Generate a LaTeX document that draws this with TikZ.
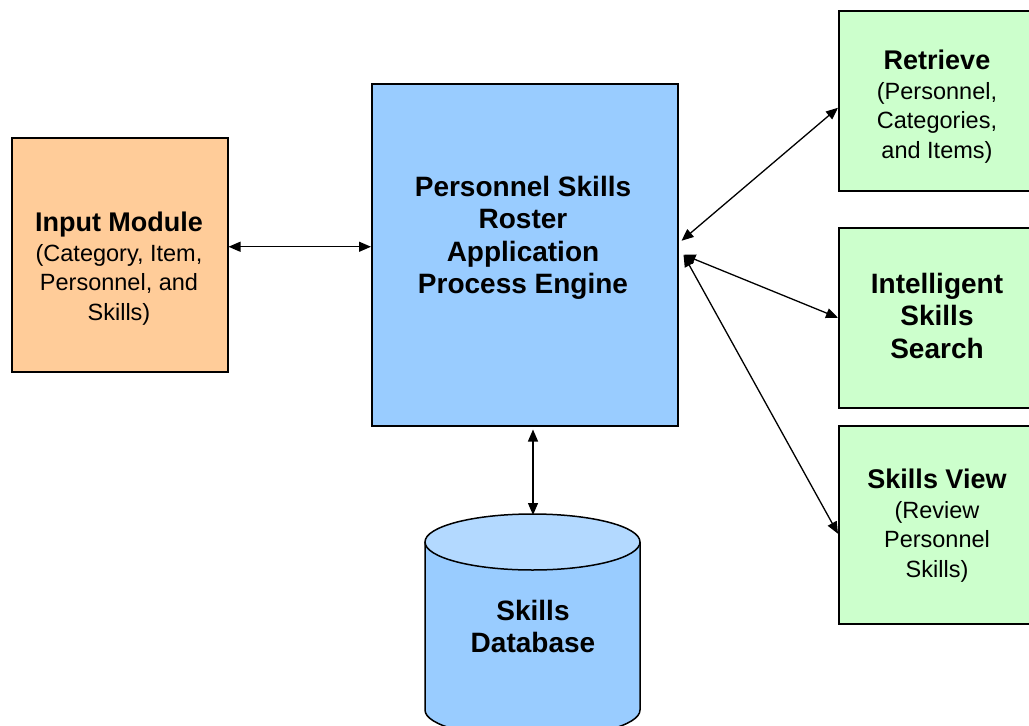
\documentclass[tikz,border=0pt]{standalone}
\usepackage{fontspec}
\setmainfont{Liberation Sans}
\usetikzlibrary{arrows.meta}
\definecolor{peach}{HTML}{FFCC99}
\definecolor{engineblue}{HTML}{99CCFF}
\definecolor{mint}{HTML}{CCFFCC}
\definecolor{dbtop}{HTML}{B3D9FF}
\tikzset{
  box/.style={draw=black, line width=1.5pt, inner sep=0pt, anchor=north west},
  txt/.style={align=center, inner sep=0pt, text=black},
  link/.style={line width=1.3pt, {Triangle[length=12pt,width=10pt]}-{Triangle[length=12pt,width=10pt]}},
  ttl/.style={font=\bfseries\fontsize{28}{32.5}\selectfont},
  mixed/.style={font=\fontsize{23.5}{29.5}\selectfont},
}
\newcommand{\hd}[1]{{\bfseries\fontsize{27}{31}\selectfont #1}}
\begin{document}
\begin{tikzpicture}[x=1pt,y=-1pt]
\useasboundingbox (0,0) rectangle (1029,726);
\begin{scope}
\clip (0,0) rectangle (1029,726);
% boxes
\node[box, fill=peach, minimum width=216pt, minimum height=234pt] (input) at (11,137) {};
\node[box, fill=engineblue, minimum width=306pt, minimum height=342pt] (engine) at (371,83) {};
\node[box, fill=mint, minimum width=200pt, minimum height=180pt] (retrieve) at (838,10) {};
\node[box, fill=mint, minimum width=200pt, minimum height=180pt] (search) at (838,227) {};
\node[box, fill=mint, minimum width=200pt, minimum height=198pt] (view) at (838,425) {};
% database cylinder
\fill[engineblue] (425,542) rectangle (640,710);
\fill[engineblue] (532.5,710) ellipse [x radius=107.5pt, y radius=28pt];
\draw[line width=1.5pt] (425,542) -- (425,710) arc[start angle=180, end angle=360, x radius=107.5pt, y radius=28pt] -- (640,542);
\filldraw[fill=dbtop, line width=1.5pt] (532.5,542) ellipse [x radius=107.5pt, y radius=28pt];
\coordinate (db) at (533,515);
\end{scope}
% labels
\node[txt, mixed] (inputtxt) at (119,268.5) {\hd{Input Module}\\ (Category, Item,\\ Personnel, and\\ Skills)};
\node[txt, ttl] (enginetxt) at (523,238) {Personnel Skills\\ Roster\\ Application\\ Process Engine};
\node[txt, mixed] (retrievetxt) at (937,106.5) {\hd{Retrieve}\\ (Personnel,\\ Categories,\\ and Items)};
\node[txt, ttl] (searchtxt) at (937,315.5) {Intelligent\\ Skills\\ Search};
\node[txt, mixed] (viewtxt) at (937,525.5) {\hd{Skills View}\\ (Review\\ Personnel\\ Skills)};
\node[txt, ttl] (dbtxt) at (533,626.5) {Skills\\ Database};
% connectors
\draw[link] ([yshift=8pt]input.east) -- ([yshift=8pt]engine.west);
\draw[link] ([yshift=-3pt]engine.south -| db) -- (db);
\draw[link] ([xshift=3pt,yshift=14pt]engine.east) -- ([yshift=-7pt]retrieve.west);
\draw[link] ([xshift=5pt]engine.east) -- (search.west);
\draw[link] ([xshift=5pt]engine.east) -- ([yshift=-9pt]view.west);
\end{tikzpicture}
\end{document}
